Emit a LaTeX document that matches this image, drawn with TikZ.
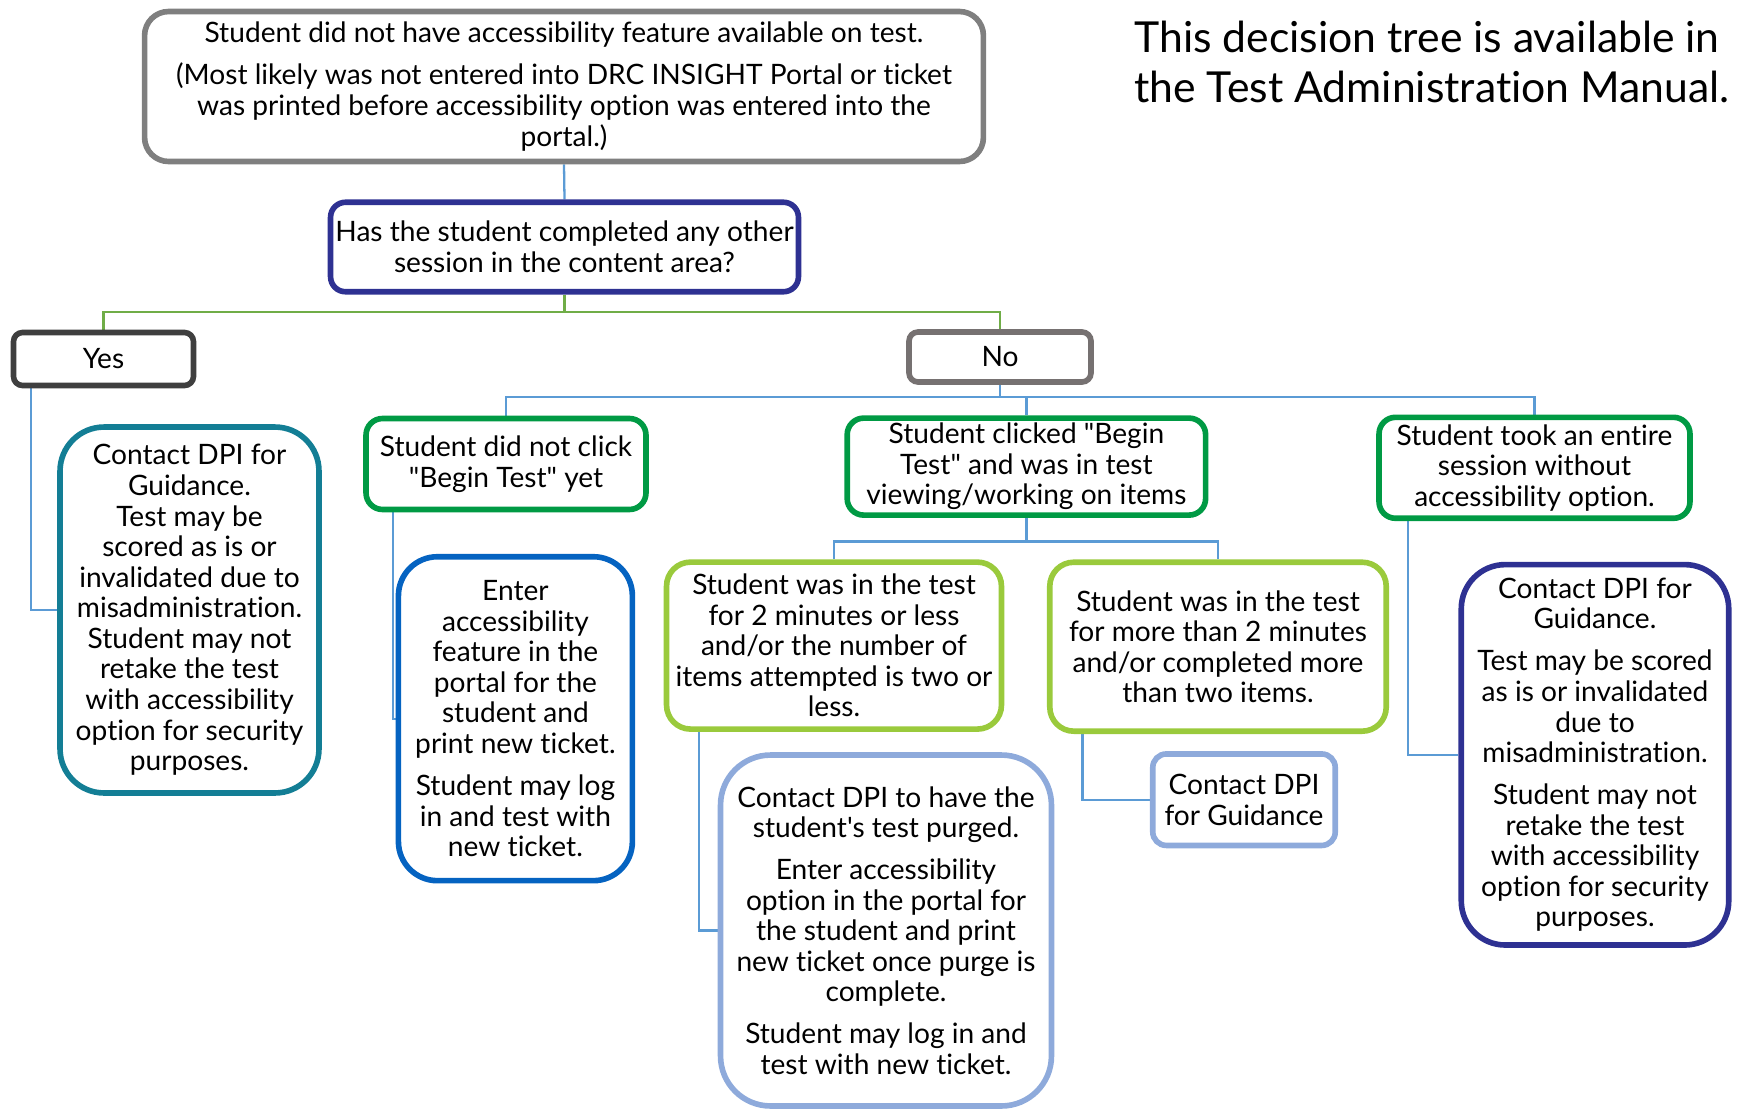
\documentclass[tikz,border=0pt]{standalone}
\usepackage{fontspec}
\newfontfamily\lato{Lato}[Ligatures=CommonOff]
\usetikzlibrary{backgrounds}

\definecolor{topgray}{HTML}{7F7F7F}
\definecolor{yesgray}{HTML}{3F3F3F}
\definecolor{nogray}{HTML}{767171}
\definecolor{navy}{HTML}{2E3192}
\definecolor{teal}{HTML}{137E95}
\definecolor{dpigreen}{HTML}{009A44}
\definecolor{lime}{HTML}{9ACA3C}
\definecolor{royal}{HTML}{0563C1}
\definecolor{paleblue}{HTML}{8EAADB}
\definecolor{linkblue}{HTML}{5B9BD5}
\definecolor{linkgreen}{HTML}{70AD47}

\begin{document}
\begin{tikzpicture}[
    x=0.02cm, y=-0.02cm,
    box/.style={draw, line width=3.2pt, fill=white, align=center, inner sep=0pt,
        font=\lato\fontsize{16}{17.4}\selectfont},
    link/.style={draw=linkblue, line width=1.3pt},
    glink/.style={draw=linkgreen, line width=1.3pt}
]
    \useasboundingbox (0,0) rectangle (1738,1109);

    % Question
    \node[box, draw=topgray, minimum width=16.78cm, minimum height=3cm, rounded corners=0.48cm] (issue) at (564,86.5)
        {Student did not have accessibility feature available on test.\\[6.5pt]
         (Most likely was not entered into DRC INSIGHT Portal or ticket\\
         was printed before accessibility option was entered into the\\
         portal.)};
    \node[box, draw=navy, minimum width=9.36cm, minimum height=1.79cm, rounded corners=0.3cm] (other) at (564.5,247)
        {Has the student completed any other\\session in the content area?};
    \node[font=\lato\fontsize{24.3}{28.4}\selectfont, align=left, anchor=west, inner sep=0pt] (manual) at (1134,61.5)
        {This decision tree is available in\\the Test Administration Manual.};

    % Answers
    \node[box, draw=yesgray, minimum width=3.6cm, minimum height=1.06cm, rounded corners=0.18cm] (yes) at (103.5,359) {Yes};
    \node[box, draw=nogray, minimum width=3.64cm, minimum height=1cm, rounded corners=0.18cm] (no) at (1000,357) {No};

    % Yes branch
    \node[box, draw=teal, minimum width=5.18cm, minimum height=7.32cm, rounded corners=0.88cm] (yesdpi) at (189.5,610)
        {Contact DPI for\\Guidance.\\Test may be\\scored as is or\\invalidated due to\\misadministration.\\
         Student may not\\retake the test\\with accessibility\\option for security\\purposes.};

    % No branch
    \node[box, draw=dpigreen, minimum width=5.6cm, minimum height=1.82cm, rounded corners=0.33cm] (noclick) at (506,464)
        {Student did not click\\"Begin Test" yet};
    \node[box, draw=royal, minimum width=4.68cm, minimum height=6.48cm, rounded corners=0.78cm] (enter) at (515.4,718.7)
        {Enter\\accessibility\\feature in the\\portal for the\\student and\\print new ticket.\\[6.5pt]
         Student may log\\in and test with\\new ticket.};
    \node[box, draw=dpigreen, minimum width=7.17cm, minimum height=1.94cm, rounded corners=0.33cm] (clicked) at (1026.4,466.6)
        {Student clicked "Begin\\Test" and was in test\\viewing/working on items};
    \node[box, draw=dpigreen, minimum width=6.22cm, minimum height=2.02cm, rounded corners=0.33cm] (took) at (1534.5,467.8)
        {Student took an entire\\session without\\accessibility option.};
    \node[box, draw=navy, minimum width=5.35cm, minimum height=7.61cm, rounded corners=0.88cm] (tookdpi) at (1595,754.8)
        {Contact DPI for\\Guidance.\\[6.5pt]Test may be scored\\as is or invalidated\\due to\\misadministration.\\[6.5pt]
         Student may not\\retake the test\\with accessibility\\option for security\\purposes.};

    % Clicked branch
    \node[box, draw=lime, minimum width=6.7cm, minimum height=3.34cm, rounded corners=0.48cm] (lessmin) at (834,645.6)
        {Student was in the test\\for 2 minutes or less\\and/or the number of\\items attempted is two or\\less.};
    \node[box, draw=lime, minimum width=6.73cm, minimum height=3.38cm, rounded corners=0.48cm] (moremin) at (1218,646.7)
        {Student was in the test\\for more than 2 minutes\\and/or completed more\\than two items.};
    \node[box, draw=paleblue, minimum width=6.62cm, minimum height=7.02cm, rounded corners=1cm] (purge) at (886,930.5)
        {Contact DPI to have the\\student's test purged.\\[6.5pt]
         Enter accessibility\\option in the portal for\\the student and print\\new ticket once purge is\\complete.\\[6.5pt]
         Student may log in and\\test with new ticket.};
    \node[box, draw=paleblue, minimum width=3.65cm, minimum height=1.83cm, rounded corners=0.27cm] (moredpi) at (1244,799.7)
        {Contact DPI\\for Guidance};

    % Connectors
    \begin{scope}[on background layer]
        \draw[link] (issue.south) -- (other.north);
        \draw[glink] (other.south) -- ++(0,17.5) -| (yes.north);
        \draw[glink] (other.south) -- ++(0,17.5) -| (no.north);
        \draw[link] ([xshift=0.4cm]yes.south west) |- (yesdpi.west);
        \draw[link] (no.south) -- ++(0,12.5) -| (noclick.north);
        \draw[link] (no.south) -- ++(0,12.5) -| (clicked.north);
        \draw[link] (no.south) -- ++(0,12.5) -| (took.north);
        \draw[link] ([xshift=0.6cm]noclick.south west) |- (enter.west);
        \draw[link] (clicked.south) -- ++(0,23.5) -| (lessmin.north);
        \draw[link] (clicked.south) -- ++(0,23.5) -| (moremin.north);
        \draw[link] ([xshift=0.7cm]lessmin.south west) |- (purge.west);
        \draw[link] ([xshift=0.71cm]moremin.south west) |- (moredpi.west);
        \draw[link] ([xshift=0.64cm]took.south west) |- (tookdpi.west);
    \end{scope}
\end{tikzpicture}
\end{document}
